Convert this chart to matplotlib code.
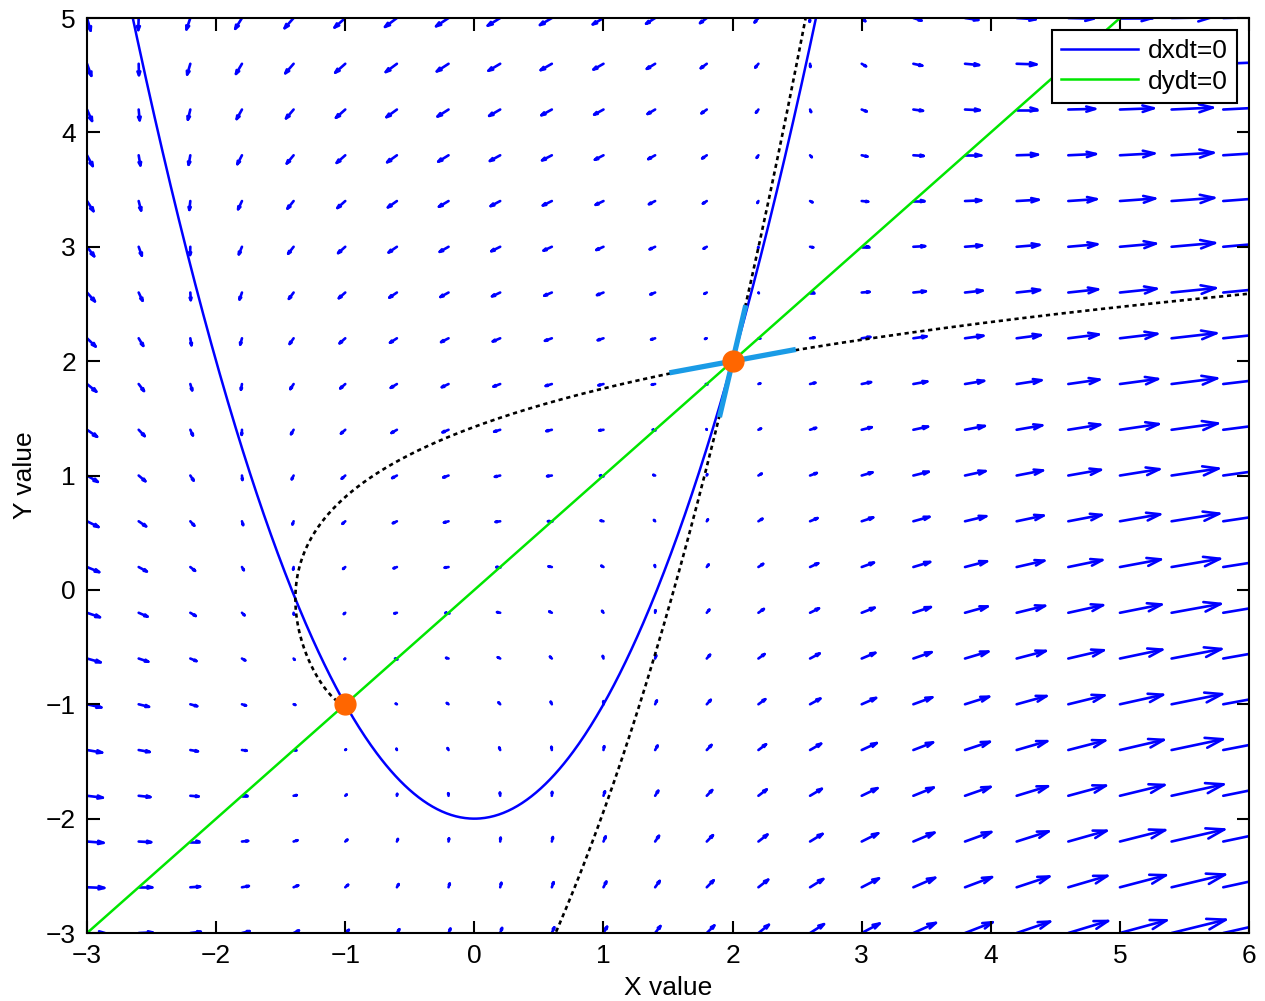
import numpy as np
import matplotlib as mpl
import matplotlib.pyplot as plt
from matplotlib.collections import LineCollection

mpl.rcParams['font.family'] = ['Liberation Sans', 'DejaVu Sans']
mpl.rcParams['font.size'] = 19
mpl.rcParams['axes.linewidth'] = 1.5
mpl.rcParams['axes.unicode_minus'] = True

# system: dx/dt = x^2 - 2 - y ,  dy/dt = x - y
a_par = 2.0          # parabola offset: dxdt=0 -> y = x^2 - a_par
fixed_x = [-1.0, 2.0]
fixed_y = [-1.0, 2.0]
saddle = (2.0, 2.0)
eig_half = 0.5       # half length of eigenvector segments

grid_x = np.arange(-3, 6.01, 0.4)
grid_y = np.linspace(-3, 5, 21)
xticks = [-3, -2, -1, 0, 1, 2, 3, 4, 5, 6]
yticks = [-3, -2, -1, 0, 1, 2, 3, 4, 5]

arrow_scale = 1 / 72.0
head_a, head_b = 0.33, 0.33   # matlab style arrow head


def field(x, y):
    return x**2 - a_par - y, x - y


def trace(p0, sign, h=0.0005, nmax=200000, stop=None):
    pts = [p0]
    p = np.array(p0, dtype=float)

    def f(q):
        u, v = field(q[0], q[1])
        return sign * np.array([u, v])

    for _ in range(nmax):
        k1 = f(p)
        k2 = f(p + h / 2 * k1)
        k3 = f(p + h / 2 * k2)
        k4 = f(p + h * k3)
        p = p + h / 6 * (k1 + 2 * k2 + 2 * k3 + k4)
        pts.append(p.copy())
        if p[0] < -3.5 or p[0] > 6.5 or p[1] < -3.5 or p[1] > 5.5:
            break
        if stop is not None and np.hypot(p[0] - stop[0], p[1] - stop[1]) < 0.03:
            break
    return np.array(pts)


# jacobian at the saddle
J = np.array([[2 * saddle[0], -1.0], [1.0, -1.0]])
evals, evecs = np.linalg.eig(J)

fig = plt.figure(figsize=(12.65, 10.01), dpi=100)
ax = fig.add_axes((0.0688, 0.0679, 0.9186, 0.9141))

# quiver, drawn like matlab (shaft + open head)
X, Y = np.meshgrid(grid_x, grid_y)
U, V = field(X, Y)
U = U * arrow_scale
V = V * arrow_scale
segs = []
for x0, y0, u, v in zip(X.ravel(), Y.ravel(), U.ravel(), V.ravel()):
    xe, ye = x0 + u, y0 + v
    segs.append([(x0, y0), (xe, ye)])
    segs.append([(xe - head_a * (u + head_b * v), ye - head_a * (v - head_b * u)),
                 (xe, ye),
                 (xe - head_a * (u - head_b * v), ye - head_a * (v + head_b * u))])
ax.add_collection(LineCollection(segs, colors='b', linewidths=1.9,
                                 capstyle='round', joinstyle='round', zorder=1))

xs = np.linspace(-3, 6, 1000)
ax.plot(xs, xs**2 - a_par, color='b', lw=1.8, label='dxdt=0', zorder=2)
ax.plot(xs, xs, color='#00e600', lw=1.8, label='dydt=0', zorder=2)

# separatrices
eps = 1e-4
for i in range(2):
    v = evecs[:, i]
    for s in (1, -1):
        if evals[i] < 0:
            tr = trace(np.array(saddle) + s * eps * v, -1)
        else:
            tr = trace(np.array(saddle) + s * eps * v, 1, stop=(fixed_x[0], fixed_y[0]))
        ax.plot(tr[:, 0], tr[:, 1], color='k', lw=1.9, ls=(0, (1.6, 1.4)), zorder=3)

# eigenvector segments
for i in range(2):
    v = evecs[:, i] / np.linalg.norm(evecs[:, i])
    ax.plot([saddle[0] - eig_half * v[0], saddle[0] + eig_half * v[0]],
            [saddle[1] - eig_half * v[1], saddle[1] + eig_half * v[1]],
            color='#1a9be6', lw=3.8, solid_capstyle='butt', zorder=4)

ax.plot(fixed_x, fixed_y, 'o', color='#ff6600', mec='#ff6600', ms=15, zorder=5)

ax.set_xlim(-3, 6)
ax.set_ylim(-3, 5)
ax.set_xticks(xticks)
ax.set_yticks(yticks)
ax.tick_params(direction='in', top=True, right=True, length=9, width=1.5, pad=8)
ax.set_xlabel('X value', labelpad=6)
ax.set_ylabel('Y value', labelpad=6)

leg = ax.legend(loc='upper right', handlelength=2.9, handletextpad=0.4,
                borderaxespad=0.45, fancybox=False, framealpha=1,
                edgecolor='k', borderpad=0.35, labelspacing=0.25)
leg.get_frame().set_linewidth(1.5)

fig.savefig('out.png', dpi=100)
